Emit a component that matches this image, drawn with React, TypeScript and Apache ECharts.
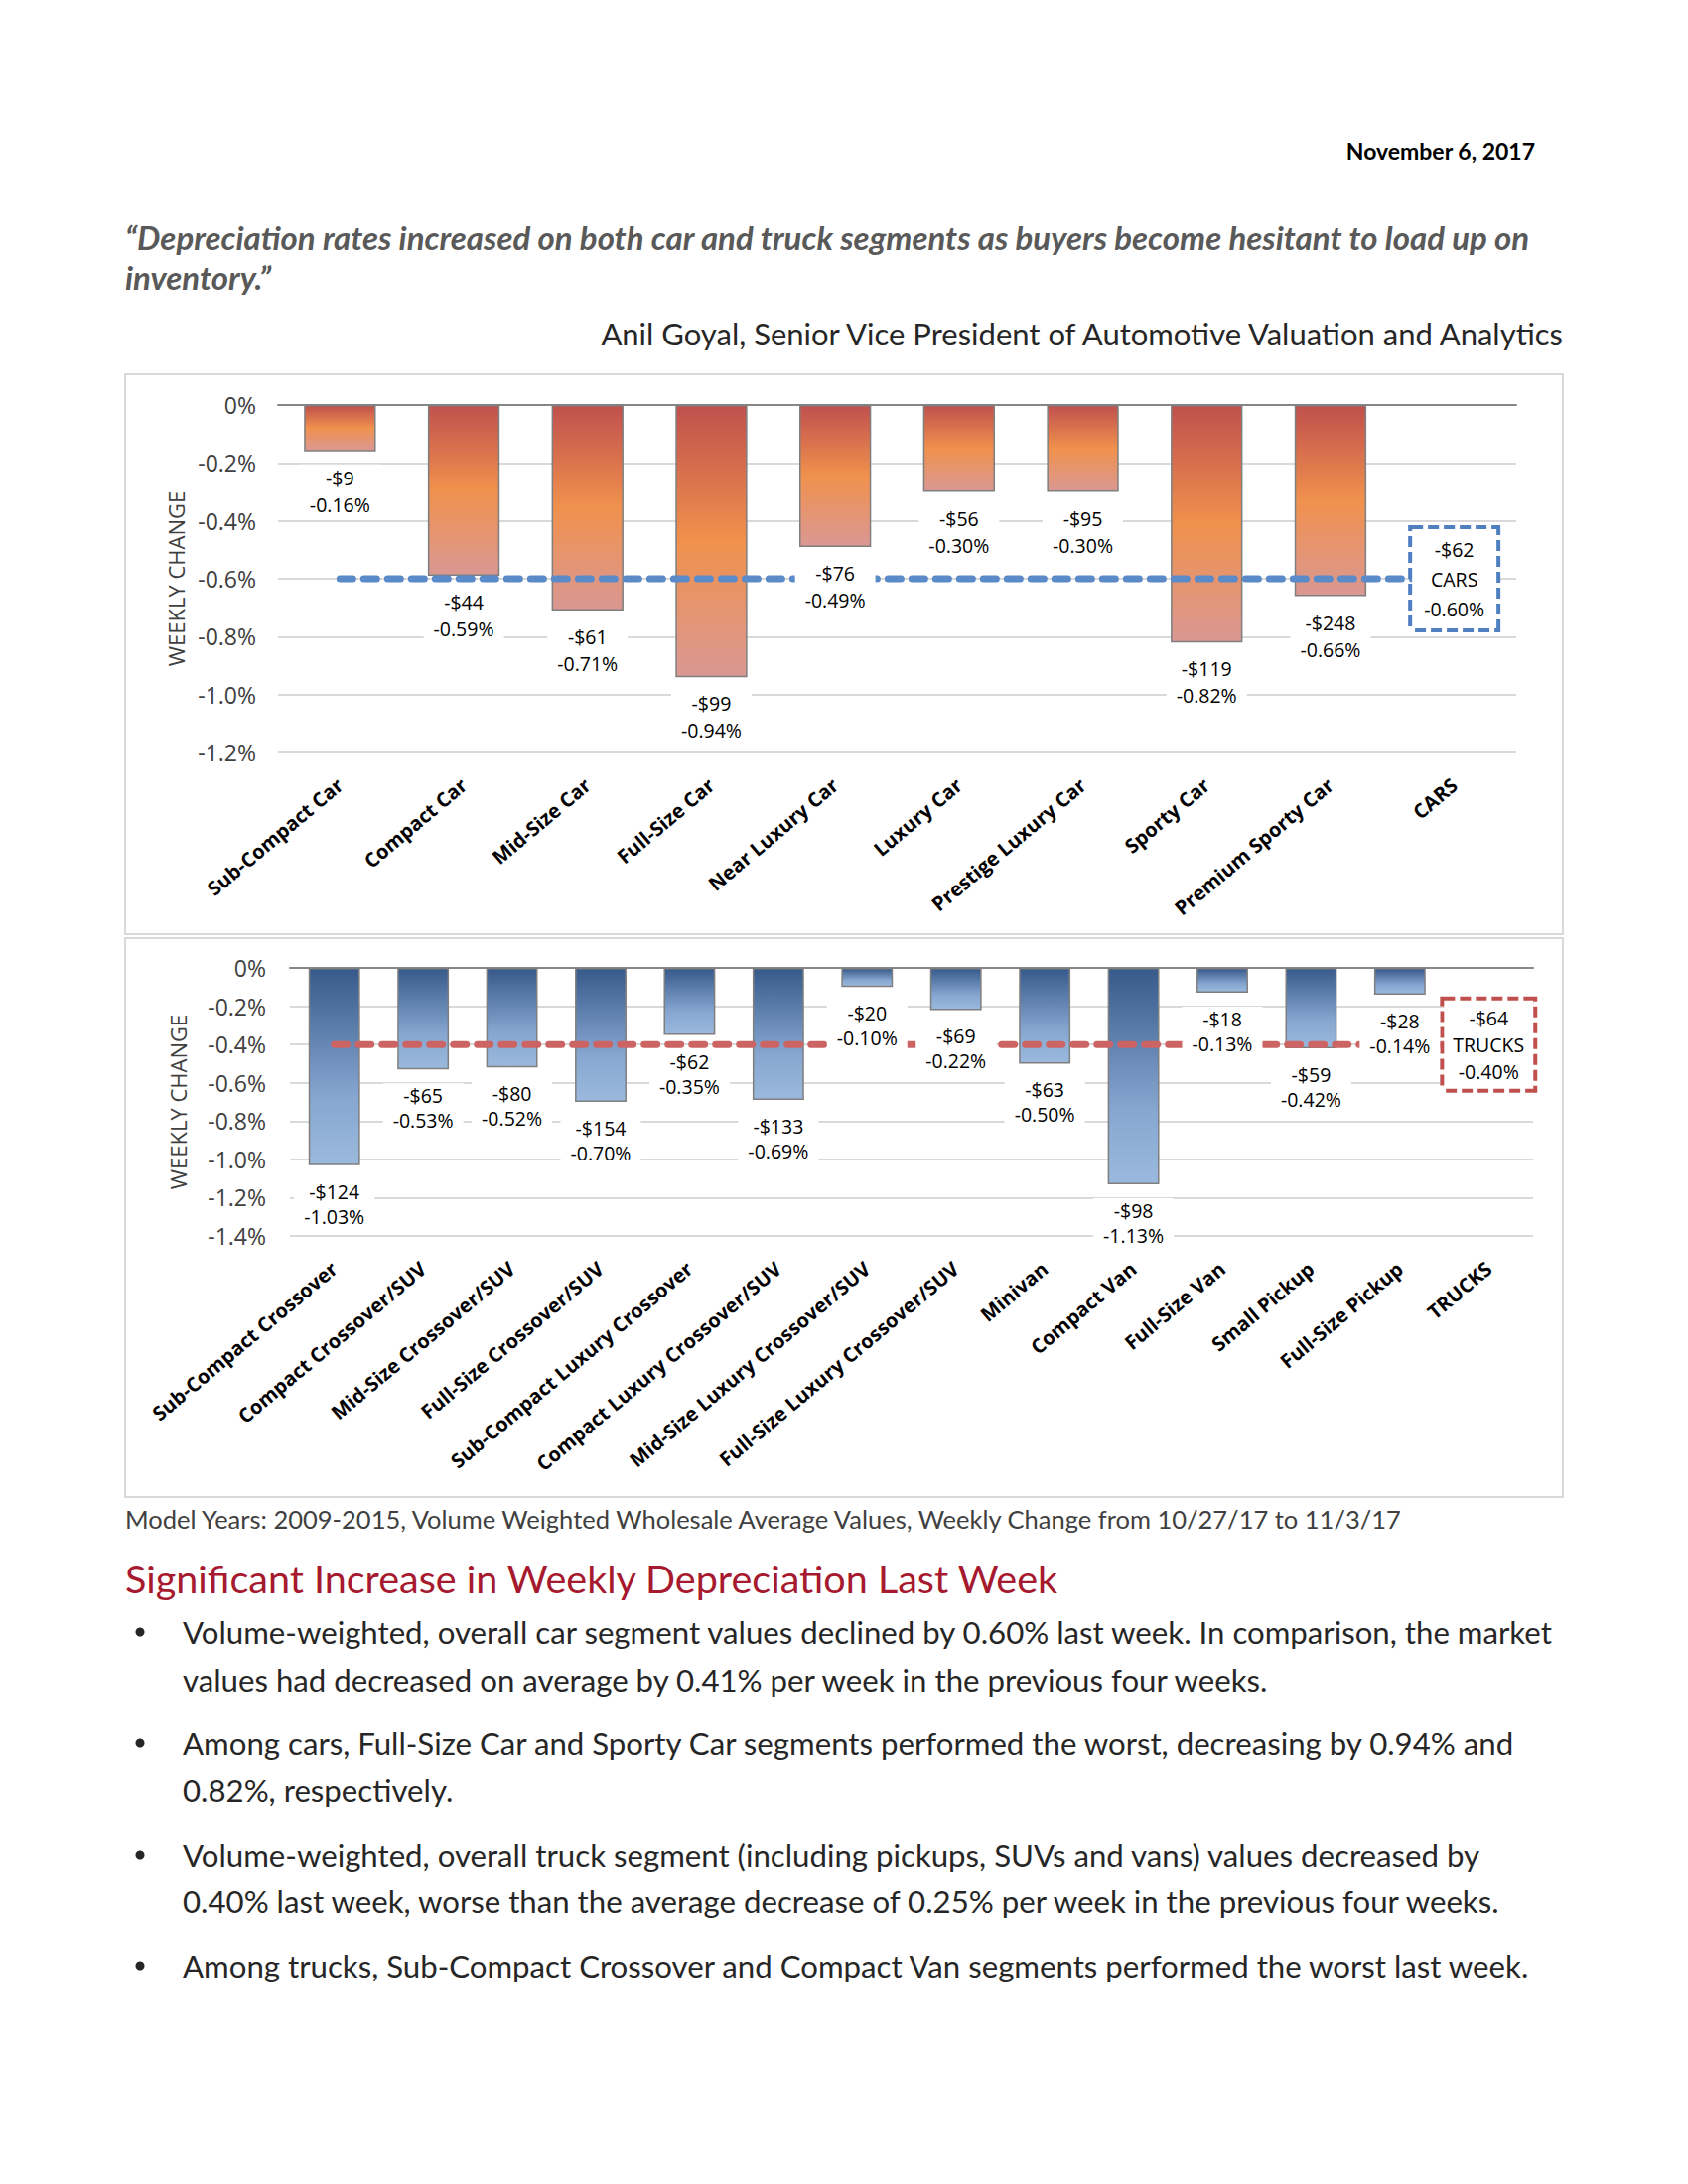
import React, { useEffect, useRef } from 'react';
import * as echarts from 'echarts';

// ---------- DATA ----------
const carCategories = [
  'Sub-Compact Car', 'Compact Car', 'Mid-Size Car', 'Full-Size Car', 'Near Luxury Car',
  'Luxury Car', 'Prestige Luxury Car', 'Sporty Car', 'Premium Sporty Car', 'CARS',
];
const carPct: (number | null)[] = [-0.16, -0.59, -0.71, -0.94, -0.49, -0.30, -0.30, -0.82, -0.66, null];
const carDollar = [-9, -44, -61, -99, -76, -56, -95, -119, -248, -62];
const carAvgLine = [-0.60, -0.60, -0.60, -0.60, -0.60, -0.60, -0.60, -0.60, -0.60, -0.60];
const carTotalPct = -0.60;

const truckCategories = [
  'Sub-Compact Crossover', 'Compact Crossover/SUV', 'Mid-Size Crossover/SUV', 'Full-Size Crossover/SUV',
  'Sub-Compact Luxury Crossover', 'Compact Luxury Crossover/SUV', 'Mid-Size Luxury Crossover/SUV',
  'Full-Size Luxury Crossover/SUV', 'Minivan', 'Compact Van', 'Full-Size Van', 'Small Pickup',
  'Full-Size Pickup', 'TRUCKS',
];
const truckPct: (number | null)[] = [-1.03, -0.53, -0.52, -0.70, -0.35, -0.69, -0.10, -0.22, -0.50, -1.13, -0.13, -0.42, -0.14, null];
const truckDollar = [-124, -65, -80, -154, -62, -133, -20, -69, -63, -98, -18, -59, -28, -64];
const truckAvgLine = [-0.40, -0.40, -0.40, -0.40, -0.40, -0.40, -0.40, -0.40, -0.40, -0.40, -0.40, -0.40, -0.40, -0.40];
const truckTotalPct = -0.40;

const carAxis = { min: -1.2, max: 0, interval: 0.2 };
const truckAxis = { min: -1.4, max: 0, interval: 0.2 };

const dateText = 'November 6, 2017';
const quoteLines = [
  '\u201cDepreciation rates increased on both car and truck segments as buyers become hesitant to load up on',
  'inventory.\u201d',
];
const attribution = 'Anil Goyal, Senior Vice President of Automotive Valuation and Analytics';
const footnote = 'Model Years: 2009-2015, Volume Weighted Wholesale Average Values, Weekly Change from 10/27/17 to 11/3/17';
const heading = 'Significant Increase in Weekly Depreciation Last Week';
const bullets = [
  [
    'Volume-weighted, overall car segment values declined by 0.60% last week. In comparison, the market',
    'values had decreased on average by 0.41% per week in the previous four weeks.',
  ],
  [
    'Among cars, Full-Size Car and Sporty Car segments performed the worst, decreasing by 0.94% and',
    '0.82%, respectively.',
  ],
  [
    'Volume-weighted, overall truck segment (including pickups, SUVs and vans) values decreased by',
    '0.40% last week, worse than the average decrease of 0.25% per week in the previous four weeks.',
  ],
  ['Among trucks, Sub-Compact Crossover and Compact Van segments performed the worst last week.'],
];

// ---------- STYLES ----------
const CHART_FONT = '"Open Sans", sans-serif';
const PAGE_FONT = 'Lato, "Open Sans", sans-serif';

const fmtDollar = (d: number) => (d < 0 ? `-$${Math.abs(d)}` : `$${d}`);
const fmtPct = (p: number) => `${p.toFixed(2)}%`;
const fmtAxis = (v: number) => (Math.abs(v) < 1e-9 ? '0%' : `${v.toFixed(1)}%`);

const carGradient = {
  type: 'linear', x: 0, y: 0, x2: 0, y2: 1,
  colorStops: [
    { offset: 0, color: '#C0504D' },
    { offset: 0.5, color: '#F0914D' },
    { offset: 1, color: '#DA9893' },
  ],
};
const truckGradient = {
  type: 'linear', x: 0, y: 0, x2: 0, y2: 1,
  colorStops: [
    { offset: 0, color: '#375A8B' },
    { offset: 0.65, color: '#86A6D0' },
    { offset: 1, color: '#9BB9DD' },
  ],
};

function buildSeries(
  xIdx: number, yIdx: number, pct: (number | null)[], dollar: number[], avg: number[],
  totalPct: number, totalName: string, grad: any, lineColor: string, boxColor: string,
  labelLH: number, labelDist: number, boxLH: number, boxPad: number[],
) {
  const barData = pct.map((v) => (v === null ? '-' : v));
  const last = avg.length - 1;
  return [
    {
      type: 'bar', xAxisIndex: xIdx, yAxisIndex: yIdx, data: barData, barWidth: '58%', barGap: '-100%',
      itemStyle: { color: grad, borderColor: '#7F7F7F', borderWidth: 1.5 },
      z: 2, silent: true,
    },
    {
      type: 'line', xAxisIndex: xIdx, yAxisIndex: yIdx,
      data: avg.map((v, i) =>
        i === last
          ? {
              value: v,
              label: {
                show: true, position: 'inside',
                formatter: `${fmtDollar(dollar[last])}\n${totalName}\n${fmtPct(totalPct)}`,
                fontFamily: CHART_FONT, fontSize: 19.5, color: '#000', align: 'center',
                lineHeight: boxLH, backgroundColor: '#fff', borderColor: boxColor, borderWidth: 4,
                borderType: [11, 5], padding: boxPad,
              },
            }
          : v,
      ),
      symbol: 'circle', symbolSize: 1, showSymbol: true,
      itemStyle: { color: 'rgba(0,0,0,0)' },
      lineStyle: { color: lineColor, width: 7, type: [13, 11], cap: 'round' },
      label: { show: false },
      z: 3, silent: true,
    },
    {
      type: 'bar', xAxisIndex: xIdx, yAxisIndex: yIdx, data: barData, barWidth: '58%', barGap: '-100%',
      itemStyle: { color: 'rgba(0,0,0,0)', borderWidth: 0 },
      label: {
        show: true, position: 'bottom', distance: labelDist,
        formatter: (p: any) => `${fmtDollar(dollar[p.dataIndex])}\n${fmtPct(pct[p.dataIndex] as number)}`,
        fontFamily: CHART_FONT, fontSize: 19.5, color: '#000', lineHeight: labelLH,
        backgroundColor: '#fff', padding: [0, 10], align: 'center',
      },
      z: 5, silent: true,
    },
  ];
}

function yAxisCfg(gridIndex: number, ax: { min: number; max: number; interval: number }, margin: number, nameGap: number) {
  return {
    type: 'value', gridIndex, min: ax.min, max: ax.max, interval: ax.interval,
    axisLine: { show: false }, axisTick: { show: false },
    splitLine: { lineStyle: { color: '#D9D9D9', width: 2 } },
    axisLabel: { formatter: fmtAxis, fontFamily: CHART_FONT, fontSize: 23, color: '#404040', margin },
    name: 'WEEKLY CHANGE', nameLocation: 'middle', nameGap,
    nameTextStyle: { fontFamily: CHART_FONT, fontSize: 22, color: '#404040' },
  };
}

function xAxesCfg(gridIndex: number, cats: string[], margin: number) {
  return [
    {
      type: 'category', gridIndex, data: cats, position: 'bottom',
      axisLine: { show: false }, axisTick: { show: false },
      axisLabel: {
        interval: 0, rotate: 40, margin, fontFamily: CHART_FONT, fontSize: 20, fontWeight: 'bold', color: '#000',
      },
    },
    {
      type: 'category', gridIndex, data: cats, position: 'top',
      axisLine: { show: true, onZero: false, lineStyle: { color: '#868686', width: 2 } },
      axisTick: { show: false }, axisLabel: { show: false },
    },
  ];
}

function pageText(text: string, x: number, y: number, font: string, fill: string, align = 'left') {
  return {
    type: 'text', silent: true,
    style: { text, x, y, font, fill, align, verticalAlign: 'middle' },
  };
}

function buildGraphic() {
  const g: any[] = [];
  g.push({ type: 'rect', shape: { x: 126, y: 377, width: 1448, height: 564 }, style: { fill: 'none', stroke: '#D9D9D9', lineWidth: 2 }, silent: true });
  g.push({ type: 'rect', shape: { x: 126, y: 945, width: 1448, height: 563 }, style: { fill: 'none', stroke: '#D9D9D9', lineWidth: 2 }, silent: true });
  g.push(pageText(dateText, 1546, 152, `bold 23px ${PAGE_FONT}`, '#000', 'right'));
  g.push(pageText(quoteLines[0], 126, 239, `italic bold 33px ${PAGE_FONT}`, '#595959'));
  g.push(pageText(quoteLines[1], 126, 279, `italic bold 33px ${PAGE_FONT}`, '#595959'));
  g.push(pageText(attribution, 1574, 336, `31px ${PAGE_FONT}`, '#262626', 'right'));
  g.push(pageText(footnote, 126, 1530, `25.5px ${PAGE_FONT}`, '#404040'));
  g.push(pageText(heading, 126, 1589, `39.5px ${PAGE_FONT}`, '#A6192E'));
  const lineYs = [[1644, 1692], [1756, 1803], [1869, 1915], [1980]];
  bullets.forEach((lines, bi) => {
    g.push({ type: 'circle', shape: { cx: 141, cy: lineYs[bi][0], r: 4.5 }, style: { fill: '#262626' }, silent: true });
    lines.forEach((t, li) => g.push(pageText(t, 184, lineYs[bi][li], `31.2px ${PAGE_FONT}`, '#262626')));
  });
  return g;
}

export default function App() {
  const ref = useRef<HTMLDivElement>(null);
  useEffect(() => {
    const chart = echarts.init(ref.current!, undefined, { renderer: 'svg', width: 1700, height: 2200 });
    const option: any = {
      animation: false,
      backgroundColor: '#fff',
      grid: [
        { left: 280, top: 408, width: 1247, height: 350, containLabel: false },
        { left: 292, top: 975, width: 1252, height: 270, containLabel: false },
      ],
      xAxis: [...xAxesCfg(0, carCategories, 30), ...xAxesCfg(1, truckCategories, 30)],
      yAxis: [yAxisCfg(0, carAxis, 22, 90), yAxisCfg(1, truckAxis, 24, 102)],
      series: [
        ...buildSeries(0, 0, carPct, carDollar, carAvgLine, carTotalPct, 'CARS', carGradient, '#5B8AC9', '#4F7FC0', 27, 13, 30, [5, 12]),
        ...buildSeries(2, 1, truckPct, truckDollar, truckAvgLine, truckTotalPct, 'TRUCKS', truckGradient, '#CD6464', '#C0504D', 25, 14, 27, [4, 9]),
      ],
      graphic: buildGraphic(),
    };
    chart.setOption(option);
    return () => chart.dispose();
  }, []);
  return <div ref={ref} style={{ position: 'absolute', left: 0, top: 0, width: 1700, height: 2200, background: '#fff' }} />;
}
